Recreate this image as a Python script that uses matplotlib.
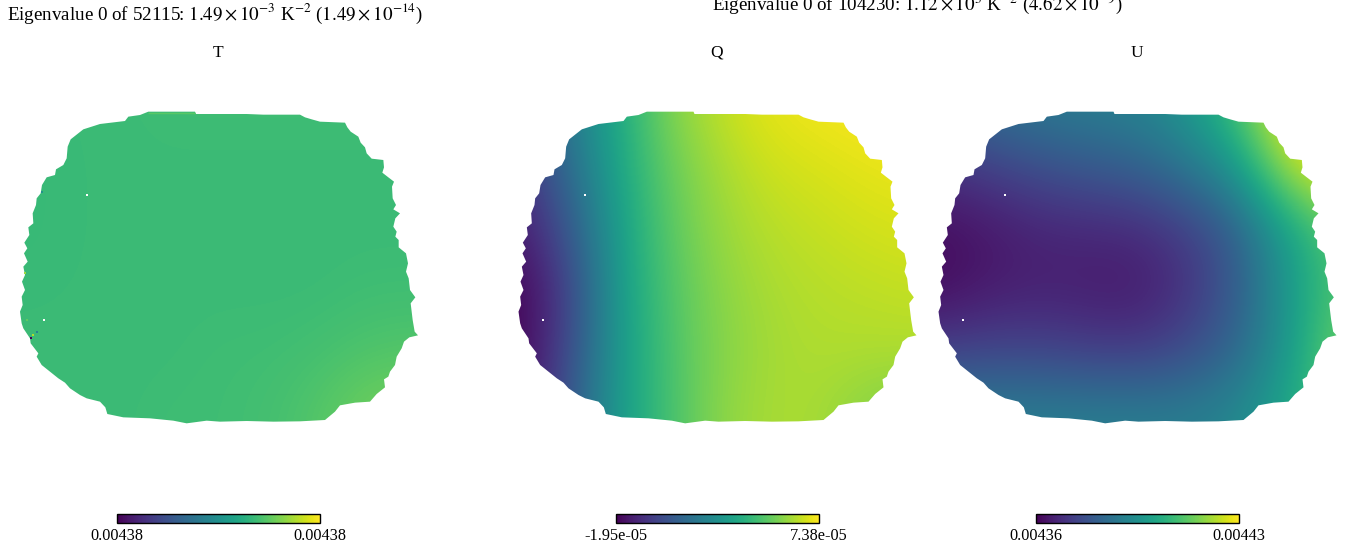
import numpy as np
import matplotlib
matplotlib.use("Agg")
import matplotlib.pyplot as plt
from matplotlib.patches import Polygon

plt.rcParams['font.family'] = ['Liberation Serif', 'DejaVu Serif']
plt.rcParams['mathtext.fontset'] = 'stix'

W, H = 1354, 547
titles = ["T", "Q", "U"]
title_x = [218, 717, 1137]
panel_offset = [0, 498.5, 918.5]
cbar_left = [117, 616, 1036]
cbar_labels = [("0.00438", "0.00438"), ("-1.95e-05", "7.38e-05"), ("0.00436", "0.00443")]
head_left = "Eigenvalue 0 of 52115: $1.49\\times10^{-3}$ K$^{-2}$ ($1.49\\times10^{-14}$)"
head_right = "Eigenvalue 0 of 104230: $1.12\\times10^{3}$ K$^{-2}$ ($4.62\\times10^{-9}$)"

# Sky-patch outline (zoomed pixel units)
outline_pts = [(445,65),(585,65),(588,72),(740,72),(790,74),(900,74),(915,82),(935,88),(960,95),(1035,98),(1042,112),
    (1052,125),(1075,140),(1082,158),(1095,172),(1100,190),(1115,206),(1150,210),(1152,232),(1147,248),(1165,262),
    (1182,275),(1176,290),(1178,325),(1188,345),(1180,358),(1200,370),(1186,385),(1180,410),(1190,425),(1186,440),
    (1196,450),(1196,472),(1218,490),(1224,520),(1218,545),(1226,565),(1230,600),(1246,622),(1232,640),(1238,690),
    (1244,725),(1254,736),(1228,742),(1212,755),(1205,775),(1190,800),(1185,825),(1170,845),(1165,860),(1152,868),
    (1155,892),(1130,912),(1110,935),(1065,938),(1020,946),(1005,965),(975,990),(900,994),(820,995),(740,993),
    (660,995),(620,992),(560,1000),(520,992),(450,985),(370,982),(322,972),(316,952),(300,935),(260,925),(240,915),
    (210,895),(195,878),(175,865),(150,845),(125,825),(110,800),(115,790),(92,760),(90,745),(70,715),(65,700),
    (60,665),(68,645),(65,620),(75,600),(66,575),(75,555),(70,530),(83,515),(72,490),(82,475),(73,458),(88,435),
    (85,412),(100,400),(98,370),(108,345),(110,325),(122,310),(126,285),(140,262),(165,255),(168,238),(190,225),
    (200,205),(203,170),(212,148),(250,118),(300,102),(375,93),(385,80),(420,75)]
outline_x = [p[0] for p in outline_pts]
outline_y = [p[1] for p in outline_pts]

grid_x = [50, 200, 350, 500, 650, 800, 950, 1100, 1250]
grid_y = [60, 240, 420, 600, 780, 960]

# Colour-scale position (0..1 of each colour bar) read at the grid nodes
t_rows = [[0.68,0.68,0.68,0.69,0.69,0.69,0.69,0.69,0.69],
          [0.67,0.68,0.68,0.68,0.68,0.68,0.68,0.68,0.68],
          [0.67,0.68,0.68,0.68,0.68,0.68,0.68,0.68,0.68],
          [0.68,0.68,0.68,0.68,0.68,0.68,0.68,0.69,0.69],
          [0.68,0.68,0.68,0.68,0.69,0.69,0.70,0.72,0.73],
          [0.68,0.68,0.68,0.69,0.69,0.70,0.73,0.78,0.79]]
q_rows = [[0.20,0.40,0.60,0.80,0.90,0.96,0.98,0.99,1.00],
          [0.12,0.33,0.58,0.76,0.86,0.92,0.94,0.96,0.97],
          [0.06,0.25,0.55,0.74,0.84,0.89,0.91,0.93,0.94],
          [0.00,0.17,0.54,0.72,0.82,0.87,0.89,0.90,0.91],
          [0.00,0.20,0.53,0.71,0.81,0.86,0.88,0.88,0.88],
          [0.02,0.25,0.54,0.70,0.82,0.87,0.87,0.82,0.80]]
u_rows = [[0.28,0.36,0.40,0.42,0.44,0.52,0.70,1.00,1.00],
          [0.14,0.18,0.23,0.27,0.30,0.38,0.52,0.86,1.00],
          [0.03,0.06,0.10,0.11,0.12,0.18,0.30,0.56,0.74],
          [0.03,0.07,0.09,0.08,0.07,0.14,0.28,0.52,0.72],
          [0.18,0.20,0.20,0.18,0.17,0.22,0.33,0.52,0.78],
          [0.42,0.42,0.42,0.42,0.42,0.42,0.46,0.58,0.75]]
fields = [t_rows, q_rows, u_rows]

hole_x = [260, 133]
hole_y = [314, 690]
# Small off-scale specks at the patch edge in T
speck_x = [76, 92, 100, 110, 125, 80]
speck_y = [550, 745, 735, 725, 305, 690]
speck_v = [0.85, 0.0, 0.88, 0.45, 0.5, 0.75]
strip_x = [445, 585]
strip_y = [68, 68]
strip_v = [0.74, 0.74]

fig = plt.figure(figsize=(W / 100, H / 100), dpi=100)

def rect(x, y, w, h):
    return [x / W, 1 - (y + h) / H, w / W, h / H]

dx = grid_x[1] - grid_x[0]
dy = grid_y[1] - grid_y[0]
ext = (grid_x[0] - dx / 2, grid_x[-1] + dx / 2, grid_y[-1] + dy / 2, grid_y[0] - dy / 2)

for i, rows in enumerate(fields):
    ax = fig.add_axes(rect(panel_offset[i], 90, 430, 350))
    ax.axis('off')
    im = ax.imshow(np.array(rows), cmap='viridis', vmin=0, vmax=1, extent=ext,
                   interpolation='bicubic', aspect='auto')
    ax.set_xlim(0, 1290)
    ax.set_ylim(1050, 0)
    poly = Polygon(np.column_stack([outline_x, outline_y]), closed=True, transform=ax.transData,
                   fc='none', ec='none')
    ax.add_patch(poly)
    im.set_clip_path(poly)
    if i == 0:
        ax.plot(strip_x, strip_y, color=plt.cm.viridis(strip_v[0]), lw=1.0, solid_capstyle='butt')
        ax.scatter(speck_x, speck_y, c=speck_v, cmap='viridis', vmin=0, vmax=1, s=2, marker='s', lw=0)
    ax.scatter(hole_x, hole_y, c='white', s=4, marker='s', lw=0)

    fig.text(title_x[i] / W, 1 - 52.5 / H, titles[i], ha='center', va='center', fontsize=12.5)

    cax = fig.add_axes(rect(cbar_left[i], 514, 203, 8.5))
    cb = fig.colorbar(im, cax=cax, orientation='horizontal')
    cb.set_ticks([0, 1])
    cb.set_ticklabels(cbar_labels[i])
    cax.tick_params(length=0, pad=4, labelsize=11.7)
    cb.outline.set_linewidth(1.0)
    cb.outline.set_edgecolor('black')

fig.text(7 / W, 1 - 20 / H, head_left, ha='left', va='baseline', fontsize=13.7)
fig.text(712 / W, 1 - 10 / H, head_right, ha='left', va='baseline', fontsize=13.7)

fig.savefig('out.png', dpi=100, facecolor='white')
